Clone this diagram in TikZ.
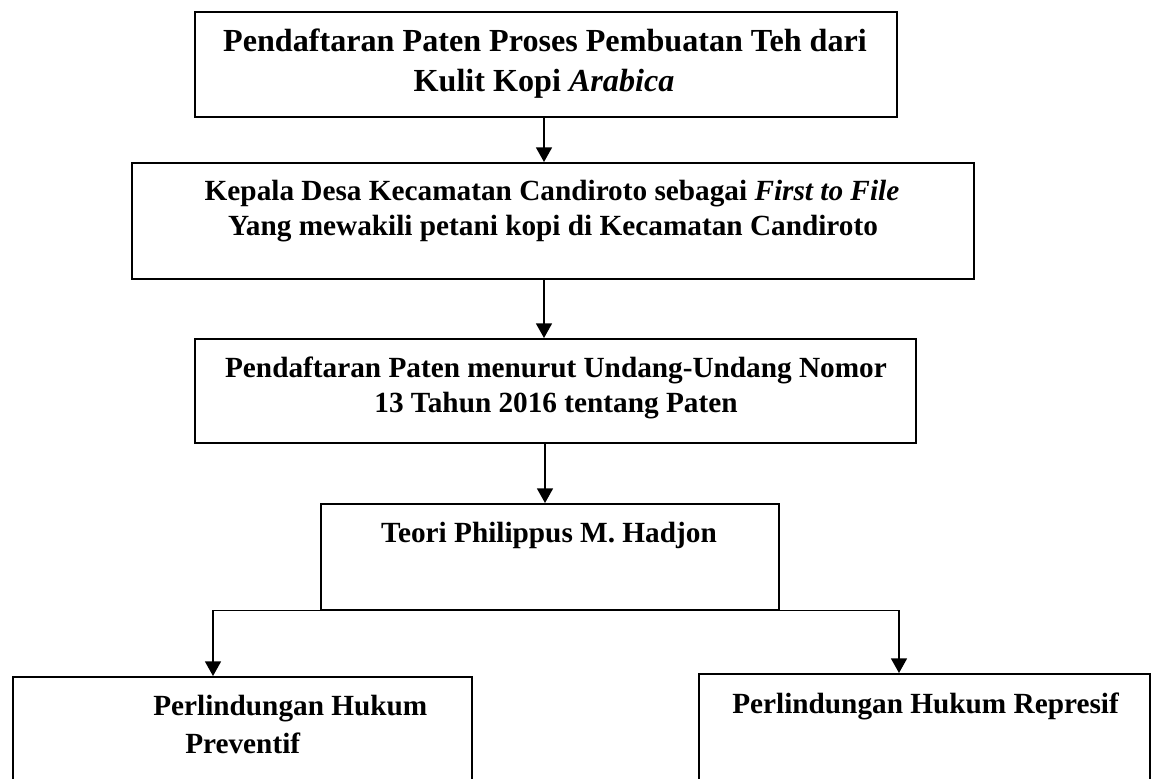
\documentclass[tikz,border=0pt]{standalone}
\usepackage{fontspec}
\setmainfont{Liberation Serif}
\usetikzlibrary{arrows.meta}
\newcommand\pxu{0.75pt}
\tikzset{
  box/.style={draw, line width=1.2pt, inner sep=0pt, anchor=north west},
  txt/.style={inner sep=0pt, anchor=base, font=\fontsize{21.95}{26}\selectfont\bfseries},
  bigtxt/.style={txt, font=\fontsize{24.1}{29}\selectfont\bfseries},
  txtw/.style={txt, anchor=base west},
  arr/.style={line width=1.2pt, -{Triangle[width=12pt,length=11pt]}},
  ln/.style={line width=1.2pt}
}
\begin{document}
\begin{tikzpicture}[x=\pxu,y=-\pxu]
\useasboundingbox (0,0) rectangle (1151,778);
\clip (0,0) rectangle (1151,778);
% boxes
\node[box, minimum width=702*\pxu, minimum height=105*\pxu] (b1) at (194,11) {};
\node[box, minimum width=842*\pxu, minimum height=116*\pxu] (b2) at (131,162) {};
\node[box, minimum width=721*\pxu, minimum height=104*\pxu] (b3) at (194,338) {};
\node[box, minimum width=458*\pxu, minimum height=106*\pxu] (b4) at (320,503) {};
\node[box, minimum width=459*\pxu, minimum height=140*\pxu] (b5) at (12,676) {};
\node[box, minimum width=451*\pxu, minimum height=140*\pxu] (b6) at (698,673) {};
% texts
\node[bigtxt] (t1a) at (545,51) {Pendaftaran Paten Proses Pembuatan Teh dari};
\node[bigtxt] (t1b) at (544,91) {Kulit Kopi \textit{Arabica}};
\node[txt] (t2a) at (552,200) {Kepala Desa Kecamatan Candiroto sebagai \textit{First to File}};
\node[txt] (t2b) at (553,235) {Yang mewakili petani kopi di Kecamatan Candiroto};
\node[txt] (t3a) at (556,377) {Pendaftaran Paten menurut Undang-Undang Nomor};
\node[txt] (t3b) at (556,412) {13 Tahun 2016 tentang Paten};
\node[txt] (t4) at (549,542) {Teori Philippus M. Hadjon};
\node[txtw] (t5a) at (153,715) {Perlindungan Hukum};
\node[txtw] (t5b) at (185,753) {Preventif};
\node[txtw] (t6) at (732,713) {Perlindungan Hukum Represif};
% connectors
\coordinate (ax) at (544,0);
\coordinate (bx) at (545,0);
\coordinate (lx) at (213,0);
\coordinate (rx) at (899,0);
\draw[arr] (b1.south -| ax) -- (b2.north -| ax);
\draw[arr] (b2.south -| ax) -- (b3.north -| ax);
\draw[arr] (b3.south -| bx) -- (b4.north -| bx);
\draw[arr] (b4.south west) -| (lx |- b5.north);
\draw[arr] (b4.south east) -| (rx |- b6.north);
\end{tikzpicture}
\end{document}
